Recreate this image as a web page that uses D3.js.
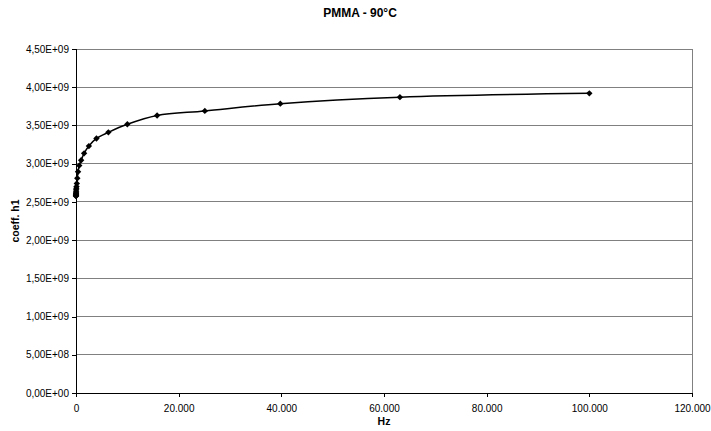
<!DOCTYPE html>
<html>
<head>
<meta charset="utf-8">
<script src="https://cdn.jsdelivr.net/npm/d3@7"></script>
<style>
  body { margin: 0; background: #fff; }
  text { font-family: "Liberation Sans", Arial, sans-serif; }
</style>
</head>
<body>
<div id="chart"></div>
<script>
// frequency (Hz) and coefficient h1
var freqs = [1, 1.6, 2.5, 4, 6.3, 10, 16, 25, 40, 63, 100, 158, 251, 398, 631,
             1000, 1580, 2510, 3980, 6310, 10000, 15800, 25100, 39800, 63100, 100000];
var h1 = [2.575e9, 2.58e9, 2.585e9, 2.59e9, 2.60e9, 2.61e9, 2.62e9, 2.64e9, 2.66e9, 2.68e9,
          2.70e9, 2.74e9, 2.81e9, 2.895e9, 2.975e9, 3.045e9, 3.135e9, 3.23e9, 3.33e9, 3.41e9,
          3.515e9, 3.63e9, 3.69e9, 3.785e9, 3.87e9, 3.92e9];
var xTicks = [0, 20000, 40000, 60000, 80000, 100000, 120000];
var yTicks = [0, 0.5e9, 1e9, 1.5e9, 2e9, 2.5e9, 3e9, 3.5e9, 4e9, 4.5e9];

var W = 711, H = 431;
var pLeft = 76, pRight = 692, pTop = 49, pBottom = 393;

var svg = d3.select('#chart').append('svg')
    .attr('width', W)
    .attr('height', H);

var x = d3.scaleLinear().domain([0, 120000]).range([pLeft, pRight]);
var y = d3.scaleLinear().domain([0, 4.5e9]).range([pBottom, pTop]);

// gridlines
svg.append('g').selectAll('line')
    .data(yTicks.slice(1))
    .enter().append('line')
    .attr('x1', pLeft).attr('x2', pRight)
    .attr('y1', d => y(d)).attr('y2', d => y(d))
    .attr('stroke', '#808080')
    .attr('stroke-width', 1)
    .attr('shape-rendering', 'crispEdges');

// right border of plot area
svg.append('line')
    .attr('x1', pRight).attr('x2', pRight)
    .attr('y1', pTop).attr('y2', pBottom)
    .attr('stroke', '#808080')
    .attr('shape-rendering', 'crispEdges');

// number formats like the original (comma decimal, dot thousands)
function fmtY(d) {
  if (d === 0) return '0,00E+00';
  var e = Math.floor(Math.log10(d));
  var m = (d / Math.pow(10, e)).toFixed(2).replace('.', ',');
  return m + 'E+' + (e < 10 ? '0' + e : e);
}
function fmtX(d) {
  return d === 0 ? '0' : d3.format(',')(d).replace(/,/g, '.');
}

var xAxis = svg.append('g')
    .attr('transform', 'translate(0,' + pBottom + ')')
    .call(d3.axisBottom(x).tickValues(xTicks).tickFormat(fmtX).tickSizeOuter(0).tickSize(4).tickPadding(8));
var yAxis = svg.append('g')
    .attr('transform', 'translate(' + pLeft + ',0)')
    .call(d3.axisLeft(y).tickValues(yTicks).tickFormat(fmtY).tickSizeOuter(0).tickSize(4).tickPadding(3));

[xAxis, yAxis].forEach(function (a) {
  a.select('.domain').attr('stroke', '#000').attr('shape-rendering', 'crispEdges');
  a.selectAll('.tick line').attr('stroke', '#000').attr('shape-rendering', 'crispEdges');
  a.selectAll('.tick text').attr('font-size', 10).attr('fill', '#000')
    .style('font-family', '"Liberation Sans", Arial, sans-serif');
});

var pts = freqs.map((f, i) => ({ f: f, v: h1[i] }));

var line = d3.line()
    .x(d => x(d.f))
    .y(d => y(d.v))
    .curve(d3.curveCatmullRom.alpha(0.5));

svg.append('path')
    .datum(pts)
    .attr('d', line)
    .attr('fill', 'none')
    .attr('stroke', '#000')
    .attr('stroke-width', 1.5);

svg.append('g').selectAll('path')
    .data(pts)
    .enter().append('path')
    .attr('d', d3.symbol().type(d3.symbolDiamond2).size(26))
    .attr('transform', d => 'translate(' + x(d.f) + ',' + y(d.v) + ')')
    .attr('fill', '#000');

// titles
svg.append('text')
    .attr('x', 360).attr('y', 17)
    .attr('text-anchor', 'middle')
    .attr('font-size', 12).attr('font-weight', 'bold')
    .text('PMMA - 90°C');

svg.append('text')
    .attr('x', 384).attr('y', 425)
    .attr('text-anchor', 'middle')
    .attr('font-size', 10.5).attr('font-weight', 'bold')
    .text('Hz');

svg.append('text')
    .attr('transform', 'translate(19,' + ((pTop + pBottom) / 2) + ') rotate(-90)')
    .attr('text-anchor', 'middle')
    .attr('font-size', 10.5).attr('font-weight', 'bold')
    .text('coeff. h1');
</script>
</body>
</html>
